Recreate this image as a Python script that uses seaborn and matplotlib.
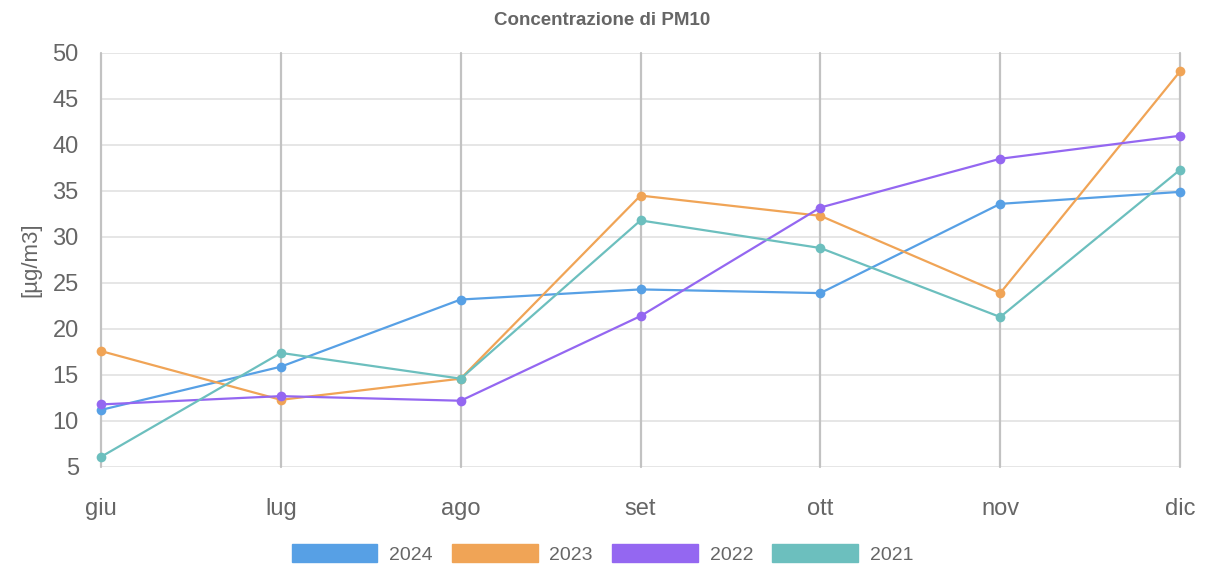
import numpy as np
import pandas as pd
import matplotlib
matplotlib.use("Agg")
import matplotlib.pyplot as plt
import seaborn as sns
from matplotlib.patches import Patch

# dati
mesi = ["giu", "lug", "ago", "set", "ott", "nov", "dic"]
anni = ["2024", "2023", "2022", "2021"]
v2024 = [11.2, 15.9, 23.2, 24.3, 23.9, 33.6, 34.9]
v2023 = [17.6, 12.3, 14.6, 34.5, 32.3, 23.9, 48.0]
v2022 = [11.8, 12.7, 12.2, 21.4, 33.2, 38.5, 41.0]
v2021 = [6.1, 17.4, 14.6, 31.8, 28.8, 21.3, 37.3]
colori = ["#57A0E5", "#F0A456", "#9467F1", "#6CBFBE"]

sns.set_theme(style="white")
plt.rcParams['font.family'] = ['Liberation Sans', 'DejaVu Sans']

righe = []
for anno, vals in zip(anni, [v2024, v2023, v2022, v2021]):
    for i, v in enumerate(vals):
        righe.append({"mese": i, "anno": anno, "valore": v})
df = pd.DataFrame(righe)

fig = plt.figure(figsize=(12.05, 5.72), dpi=100)
ax = fig.add_axes([0.0838, 0.1836, 0.8955, 0.7238])

sns.lineplot(data=df, x="mese", y="valore", hue="anno", hue_order=anni,
             palette=colori, marker="o", markersize=7, markeredgewidth=0,
             linewidth=1.6, sort=False, legend=False, ax=ax, zorder=3)
for l in ax.lines:
    l.set_clip_on(False)

ax.set_xlim(0, len(mesi) - 1)
ax.set_ylim(5, 50)
ax.set_xticks(range(len(mesi)))
ax.set_xticklabels(mesi)
ax.set_yticks(range(5, 51, 5))
for s in ax.spines.values():
    s.set_visible(False)

# griglia
ax.grid(axis="y", color="#E6E6E6", linewidth=1.4, zorder=0)
for i in range(len(mesi)):
    ax.axvline(i, color="#C2C2C2", linewidth=1.6, zorder=1, clip_on=False)

ax.tick_params(axis="y", length=14, width=1.4, color="#E6E6E6",
               labelsize=17, labelcolor="#666666", pad=2)
ax.tick_params(axis="x", length=14, width=1.6, color="#C2C2C2",
               labelsize=17, labelcolor="#666666", pad=8)

ax.set_xlabel("")
ax.set_ylabel("[µg/m3]", fontsize=16, color="#666666", labelpad=8)

fig.text(0.5, 0.965, "Concentrazione di PM10", ha="center", va="center",
         fontsize=13.5, fontweight="bold", color="#666666")

handles = [Patch(facecolor=c, edgecolor=c, label=a) for a, c in zip(anni, colori)]
fig.legend(handles=handles, loc="center", bbox_to_anchor=(0.5, 0.032), ncol=4,
           frameon=False, fontsize=14, handlelength=4.4, handleheight=1.1,
           handletextpad=0.6, columnspacing=1.0, labelcolor="#666666")

fig.savefig("out.png", dpi=100)
